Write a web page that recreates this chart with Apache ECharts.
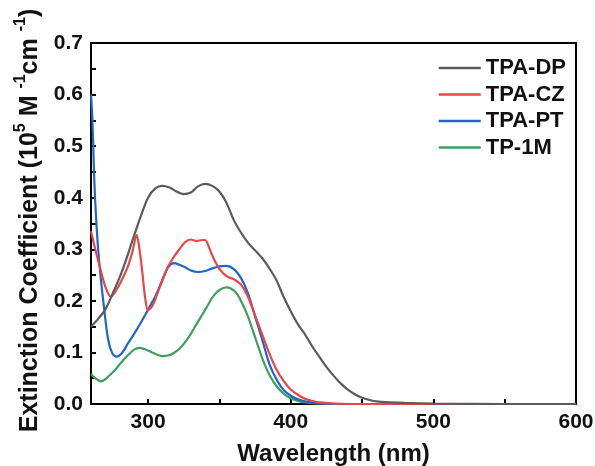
<!DOCTYPE html>
<html>
<head>
<meta charset="utf-8">
<script src="https://cdn.jsdelivr.net/npm/echarts@6/dist/echarts.min.js"></script>
<style>html,body{margin:0;padding:0;background:#fff;}#c{width:595px;height:466px;}</style>
</head>
<body>
<div id="c"></div>
<script>
var seriesNames = ['TPA-DP', 'TPA-CZ', 'TPA-PT', 'TP-1M'];
var xTickValues = [300, 350, 400, 450, 500, 550, 600];
var xLabelValues = [300, 400, 500, 600];

var dpX = [260,265,270,275,280,285,290,295,300,305,310,315,320,325,330,335,340,345,350,355,360,365,370,375,380,385,390,395,400,405,410,415,420,425,430,435,440,445,450,455,460,470,480,500,550,600];
var dpY = [0.150,0.165,0.183,0.213,0.245,0.283,0.325,0.365,0.400,0.418,0.423,0.420,0.412,0.407,0.410,0.422,0.427,0.423,0.412,0.390,0.357,0.333,0.313,0.298,0.283,0.263,0.240,0.208,0.180,0.155,0.135,0.112,0.092,0.072,0.055,0.040,0.028,0.019,0.012,0.008,0.005,0.003,0.002,0.001,0.000,0.000];

var czX = [260,263,266,270,274,278,282,286,289,292,294,296,298,300,303,306,310,314,318,322,326,330,334,338,340,343,346,350,355,360,365,370,375,380,385,390,395,400,405,410,415,420,430,450,500,600];
var czY = [0.335,0.300,0.268,0.228,0.208,0.222,0.243,0.268,0.295,0.328,0.300,0.255,0.205,0.182,0.190,0.210,0.240,0.266,0.285,0.300,0.314,0.319,0.316,0.318,0.318,0.302,0.282,0.262,0.248,0.242,0.232,0.208,0.172,0.135,0.098,0.067,0.045,0.028,0.018,0.010,0.006,0.003,0.001,0.000,0.000,0.000];

var ptX = [260,261,262,263,265,267,269,272,275,278,282,286,290,295,300,305,310,314,318,322,326,330,335,340,345,350,355,360,365,370,375,380,385,390,395,400,405,410,415,420,450,500,600];
var ptY = [0.600,0.550,0.460,0.390,0.300,0.240,0.190,0.125,0.098,0.092,0.100,0.118,0.135,0.158,0.183,0.208,0.240,0.265,0.273,0.270,0.265,0.259,0.256,0.258,0.263,0.267,0.268,0.262,0.245,0.215,0.170,0.125,0.078,0.048,0.027,0.016,0.009,0.005,0.003,0.001,0.000,0.000,0.000];

var tpX = [260,263,267,270,274,278,282,286,290,294,298,302,306,310,314,318,322,326,330,334,338,342,346,350,355,358,362,366,370,374,378,382,386,390,395,400,405,410,420,450,500,600];
var tpY = [0.058,0.050,0.044,0.048,0.058,0.070,0.083,0.095,0.105,0.109,0.106,0.101,0.096,0.093,0.094,0.099,0.107,0.120,0.136,0.155,0.173,0.192,0.210,0.221,0.226,0.224,0.215,0.195,0.170,0.138,0.105,0.075,0.052,0.035,0.020,0.011,0.006,0.003,0.001,0.000,0.000,0.000];

var colors = ['#5b5b5b', '#e5474b', '#2166c6', '#3f9e60'];

function pairs(xs, ys) { return xs.map(function (x, i) { return [x, ys[i]]; }); }
var allData = [pairs(dpX, dpY), pairs(czX, czY), pairs(ptX, ptY), pairs(tpX, tpY)];

var FONT = 'Liberation Sans, Arial, sans-serif';
var chart = echarts.init(document.getElementById('c'));
chart.setOption({
  animation: false,
  backgroundColor: '#fff',
  grid: { left: 91, right: 19, top: 43, bottom: 62, show: true, borderColor: '#000', borderWidth: 2, backgroundColor: 'transparent', containLabel: false, outerBoundsMode: 'none' },
  legend: {
    orient: 'vertical', right: 24, top: 52, itemWidth: 42, itemHeight: 2.5, itemGap: 4.5, icon: 'rect',
    textStyle: { fontFamily: FONT, fontWeight: 'bold', fontSize: 22, color: '#111', lineHeight: 22, padding: [0,0,0,0] },
    data: seriesNames
  },
  xAxis: {
    type: 'value', min: 260, max: 600,
    name: 'Wavelength (nm)', nameLocation: 'middle', nameGap: 38,
    nameTextStyle: { fontFamily: FONT, fontWeight: 'bold', fontSize: 24, color: '#111' },
    axisLine: { show: true, lineStyle: { color: '#000', width: 2 } },
    axisTick: { show: true, inside: true, length: 5, lineStyle: { color: '#000', width: 2 }, customValues: xTickValues },
    axisLabel: { fontFamily: FONT, fontWeight: 'bold', fontSize: 21, color: '#111', margin: 8, customValues: xLabelValues },
    splitLine: { show: false }
  },
  yAxis: {
    type: 'value', min: 0, max: 0.7, interval: 0.1,
    name: '{a|Extinction Coefficient (10}{s|5}{a| M }{s|-1}{a|cm }{s|-1}{a|)}',
    nameLocation: 'middle', nameGap: 45, nameRotate: 90,
    nameTextStyle: {
      padding: [0, 0, 0, 6],
      rich: {
        a: { fontFamily: FONT, fontWeight: 'bold', fontSize: 25, color: '#111', lineHeight: 30, verticalAlign: 'bottom' },
        s: { fontFamily: FONT, fontWeight: 'bold', fontSize: 16, color: '#111', lineHeight: 30, verticalAlign: 'top' }
      }
    },
    axisLine: { show: true, lineStyle: { color: '#000', width: 2 } },
    axisTick: { show: true, inside: true, length: 5, lineStyle: { color: '#000', width: 2 } },
    minorTick: { show: true, splitNumber: 2, length: 5, lineStyle: { color: '#000', width: 2 } },
    axisLabel: { fontFamily: FONT, fontWeight: 'bold', fontSize: 21, color: '#111', margin: 8, formatter: function (v) { return v.toFixed(1); } },
    splitLine: { show: false }
  },
  series: seriesNames.map(function (n, i) {
    return {
      name: n, type: 'line', data: allData[i], symbol: 'none', smooth: 0.3,
      lineStyle: { color: colors[i], width: 2.2 }, itemStyle: { color: colors[i] }, z: 10 - i
    };
  })
});
</script>
</body>
</html>
